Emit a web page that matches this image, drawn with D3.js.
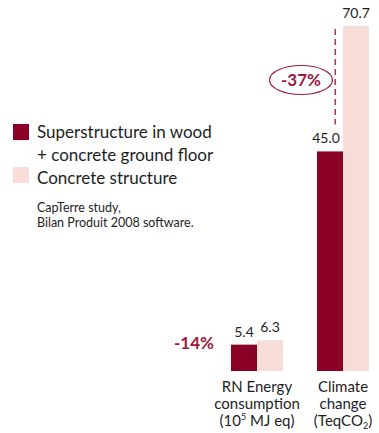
<!DOCTYPE html>
<html>
<head>
<meta charset="utf-8">
<script src="https://cdn.jsdelivr.net/npm/d3@7"></script>
<style>
  html, body { margin: 0; padding: 0; background: #fff; }
  svg { display: block; font-family: Lato, "Open Sans", sans-serif; }
</style>
</head>
<body>
<svg id="chart" width="379" height="433"></svg>
<script>
// Indicators compared and the two building options
const categories = ["energy", "climate"];
const series = ["wood", "concrete"];
const seriesNames = ["Superstructure in wood", "Concrete structure"];
const woodValues = [5.4, 45.0];
const concreteValues = [6.3, 70.7];
const valueLabels = [["5.4", "6.3"], ["45.0", "70.7"]];
const reductionLabels = ["-14%", "-37%"];

const colors = { wood: "#8b0026", concrete: "#f7dcd7" };
const accent = "#9c1a3e";
const textColor = "#1e1e1e";

const svg = d3.select("#chart");

const x = d3.scaleBand().domain(categories).range([214, 386]).paddingInner(0.395).paddingOuter(0.1975);
const xs = d3.scaleBand().domain(series).range([0, x.bandwidth()]);
const y = d3.scaleLinear().domain([0, 70.7]).range([371, 26]);

const rows = categories.map((c, i) => ({
  cat: c,
  vals: [
    { s: "wood", v: woodValues[i], label: valueLabels[i][0] },
    { s: "concrete", v: concreteValues[i], label: valueLabels[i][1] }
  ]
}));

const groups = svg.selectAll("g.grp").data(rows).join("g")
  .attr("class", "grp")
  .attr("transform", d => `translate(${x(d.cat)},0)`);

groups.selectAll("rect").data(d => d.vals).join("rect")
  .attr("x", d => xs(d.s))
  .attr("width", xs.bandwidth())
  .attr("y", d => y(d.v))
  .attr("height", d => y(0) - y(d.v))
  .attr("fill", d => colors[d.s]);

// value labels above each bar
groups.selectAll("text.val").data(d => d.vals).join("text")
  .attr("class", "val")
  .attr("x", d => xs(d.s) + xs.bandwidth() / 2 + (d.label === "45.0" ? -4 : 0))
  .attr("y", d => y(d.v) - 8)
  .attr("text-anchor", "middle")
  .attr("font-size", 14)
  .attr("fill", textColor)
  .text(d => d.label);

// category labels under the axis
const catLines = {
  energy: [["RN Energy"], ["consumption"], ["(10", { sup: "5" }, " MJ eq)"]],
  climate: [["Climate"], ["change"], ["(TeqCO", { sub: "2" }, ")"]]
};
categories.forEach(c => {
  const t = svg.append("text")
    .attr("text-anchor", "middle")
    .attr("font-size", 15)
    .attr("fill", textColor);
  catLines[c].forEach((parts, li) => {
    const line = t.append("tspan")
      .attr("x", x(c) + x.bandwidth() / 2)
      .attr("y", 392 + li * 17);
    parts.forEach(p => {
      if (typeof p === "string") line.append("tspan").text(p);
      else if (p.sup) line.append("tspan").attr("font-size", 9).attr("baseline-shift", 6).text(p.sup);
      else if (p.sub) line.append("tspan").attr("font-size", 9).attr("baseline-shift", -3).text(p.sub);
    });
  });
});

// -14% beside the energy bars
svg.append("text")
  .attr("x", x("energy") - 17)
  .attr("y", 349)
  .attr("text-anchor", "end")
  .attr("font-size", 17)
  .attr("font-weight", "bold")
  .attr("fill", accent)
  .text(reductionLabels[0]);

// dashed reference line and circled -37% for climate change
const lx = x("climate") + xs("wood") + xs.bandwidth() * 0.7;
svg.append("line")
  .attr("x1", lx).attr("x2", lx)
  .attr("y1", y(70.7) + 3).attr("y2", y(45) - 27)
  .attr("stroke", accent)
  .attr("stroke-width", 1.3)
  .attr("stroke-dasharray", "6,4");

const ex = 301, ey = 80;
svg.append("ellipse")
  .attr("cx", ex).attr("cy", ey)
  .attr("rx", 31.5).attr("ry", 14.5)
  .attr("fill", "none")
  .attr("stroke", accent)
  .attr("stroke-width", 1.2);
svg.append("text")
  .attr("x", ex).attr("y", ey + 6)
  .attr("text-anchor", "middle")
  .attr("font-size", 17)
  .attr("font-weight", "bold")
  .attr("fill", accent)
  .text(reductionLabels[1]);

// legend
const legend = svg.append("g");
legend.append("rect").attr("x", 13).attr("y", 124).attr("width", 16).attr("height", 16).attr("fill", colors.wood);
legend.append("rect").attr("x", 13).attr("y", 167).attr("width", 16).attr("height", 16).attr("fill", colors.concrete);
legend.append("text").attr("x", 37).attr("y", 138).attr("font-size", 17).attr("fill", textColor).text(seriesNames[0]);
legend.append("text").attr("x", 37).attr("y", 161).attr("font-size", 17).attr("fill", textColor).text("+ concrete ground floor");
legend.append("text").attr("x", 37).attr("y", 184).attr("font-size", 17).attr("fill", textColor).text(seriesNames[1]);

// source note
legend.append("text").attr("x", 37).attr("y", 212).attr("font-size", 12.5).attr("fill", textColor).text("CapTerre study,");
legend.append("text").attr("x", 37).attr("y", 227).attr("font-size", 12.5).attr("fill", textColor).text("Bilan Produit 2008 software.");
</script>
</body>
</html>
